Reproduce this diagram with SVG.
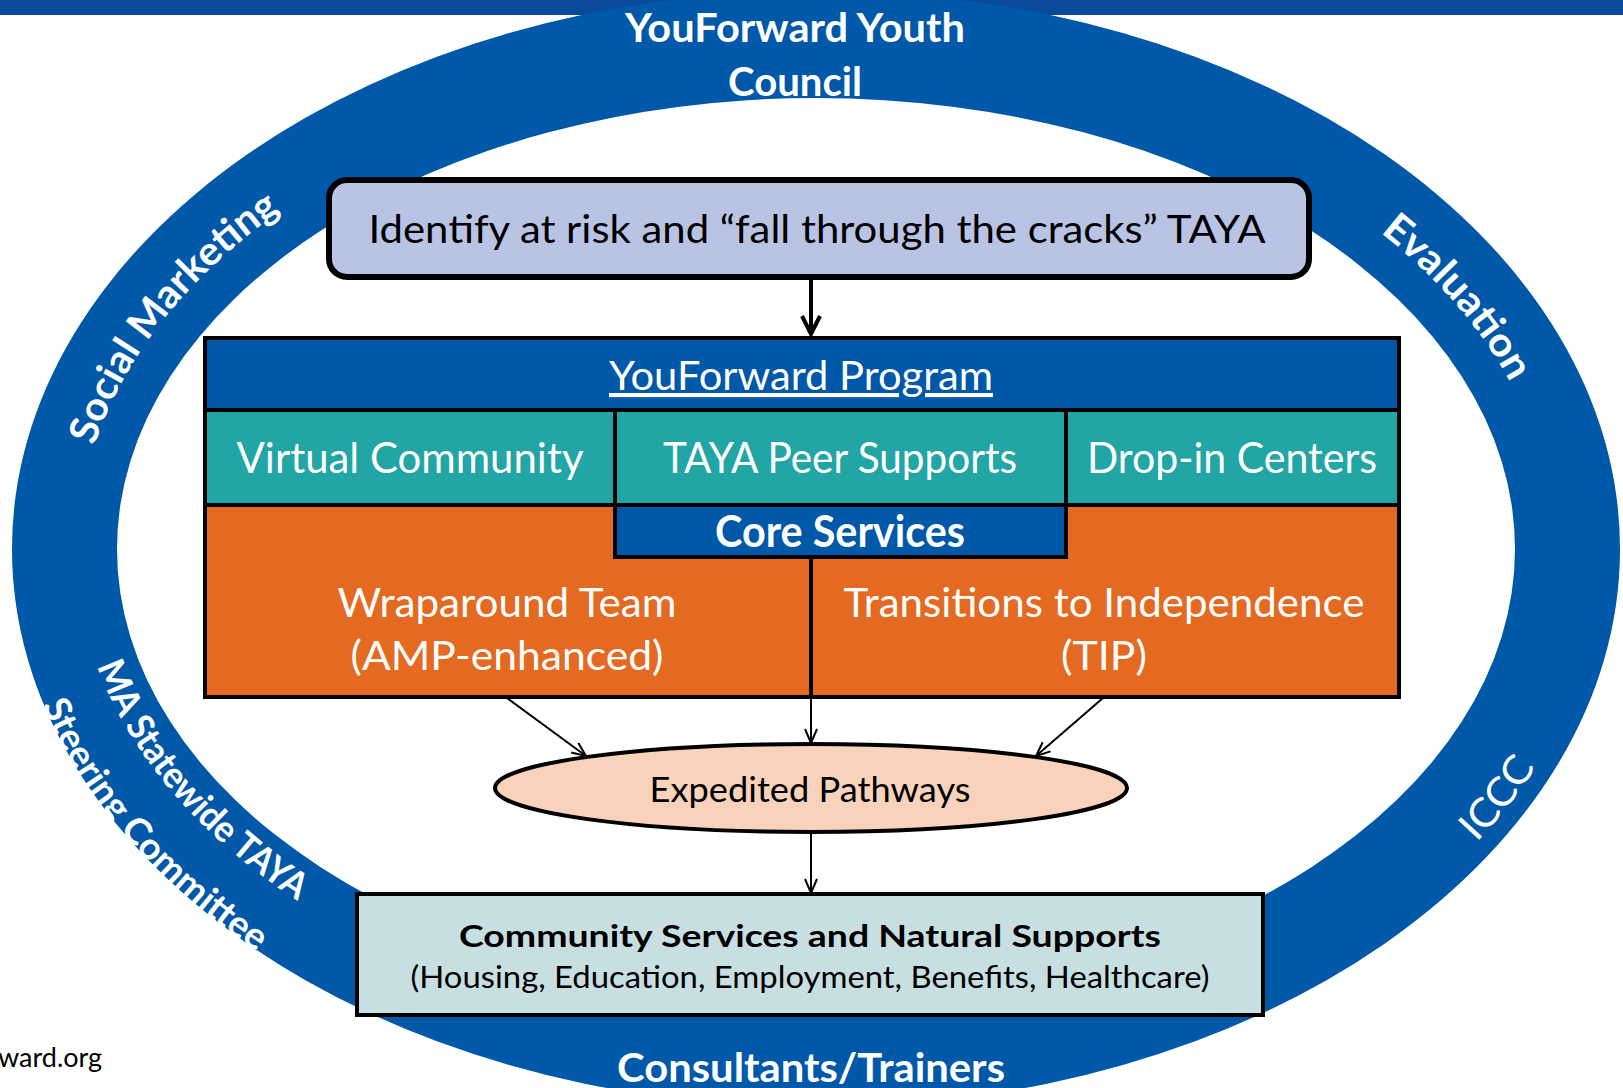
<svg xmlns="http://www.w3.org/2000/svg" width="1623" height="1088" viewBox="0 0 1623 1088">
<style>
  text { font-family: Lato, "Open Sans", "Liberation Sans", sans-serif; }
  .ring-txt { fill: #ffffff; font-weight: bold; font-size: 40px; }
  .ring-reg { fill: #ffffff; font-weight: normal; font-size: 40px; }
  .white { fill: #ffffff; }
  .blk { fill: #000000; }
  .mid { text-anchor: middle; }
  .edge { stroke: #000000; stroke-width: 4; }
  .conn { stroke: #000000; stroke-width: 2; fill: none; }
</style>
<defs>
  <marker id="arrowThin" viewBox="0 0 16 14" refX="15" refY="7" markerWidth="16" markerHeight="14" markerUnits="userSpaceOnUse" orient="auto">
    <path d="M1,1 L15,7 L1,13" fill="none" stroke="#000" stroke-width="2"/>
  </marker>
  <marker id="arrowThick" viewBox="0 0 22 22" refX="20" refY="11" markerWidth="22" markerHeight="22" markerUnits="userSpaceOnUse" orient="auto">
    <path d="M2,2 L20,11 L2,20" fill="none" stroke="#000" stroke-width="4"/>
  </marker>
  <path id="pSocial" d="M 80.3 510.5 A 738 491 0 0 1 336.7 175.6"/>
  <path id="pEval" d="M 1300.2 178.4 A 738 491 0 0 1 1544.9 472.2"/>
  <path id="pICCC" d="M 1372.5 930.8 A 787 540 0 0 0 1591.0 642.8"/>
  <path id="pMA" d="M 77.3 578.5 A 740 493 0 0 0 375.8 945.3"/>
  <path id="pSteer" d="M 13.1 597.8 A 806 559 0 0 0 353.7 1006.9"/>
</defs>

<rect x="0" y="0" width="1623" height="15" fill="#0A4A9D"/>

<g id="ring">
  <path fill="#0058A8" fill-rule="evenodd" d="M 12 549 A 804 558 0 1 0 1620 549 A 804 558 0 1 0 12 549 Z M 117 549 A 699 451 0 1 0 1515 549 A 699 451 0 1 0 117 549 Z"/>
</g>

<g id="ring-labels">
  <g id="youth-council">
    <text class="ring-txt mid" x="795" y="42" textLength="340" lengthAdjust="spacingAndGlyphs">YouForward Youth</text>
    <text class="ring-txt mid" x="795" y="96" textLength="134" lengthAdjust="spacingAndGlyphs">Council</text>
  </g>
  <g id="social-marketing">
    <text class="ring-txt"><textPath href="#pSocial" startOffset="50%" text-anchor="middle" textLength="305" lengthAdjust="spacingAndGlyphs">Social Marketing</textPath></text>
  </g>
  <g id="evaluation">
    <text class="ring-txt"><textPath href="#pEval" startOffset="50%" text-anchor="middle" textLength="200" lengthAdjust="spacingAndGlyphs">Evaluation</textPath></text>
  </g>
  <g id="iccc">
    <text class="ring-reg"><textPath href="#pICCC" startOffset="50%" text-anchor="middle" textLength="96" lengthAdjust="spacingAndGlyphs">ICCC</textPath></text>
  </g>
  <g id="steering">
    <text class="ring-txt" style="font-size:37px"><textPath href="#pMA" startOffset="50%" text-anchor="middle" textLength="314" lengthAdjust="spacingAndGlyphs">MA Statewide TAYA</textPath></text>
    <text class="ring-txt" style="font-size:37px"><textPath href="#pSteer" startOffset="50%" text-anchor="middle" textLength="332" lengthAdjust="spacingAndGlyphs">Steering Committee</textPath></text>
  </g>
  <g id="consultants">
    <text class="ring-txt mid" x="811" y="1082" textLength="388" lengthAdjust="spacingAndGlyphs">Consultants/Trainers</text>
  </g>
</g>

<g id="identify">
  <rect x="329" y="180" width="980" height="97" rx="18" ry="18" fill="#B9C3E3" stroke="#000" stroke-width="6"/>
  <text class="blk mid" x="817" y="243" font-size="39" textLength="897" lengthAdjust="spacingAndGlyphs">Identify at risk and “fall through the cracks” TAYA</text>
</g>

<g id="program">
  <rect x="205" y="338" width="1194" height="73" fill="#0058A8"/>
  <rect x="205" y="411" width="1194" height="94" fill="#21A5A5"/>
  <rect x="205" y="505" width="1194" height="192" fill="#E46A22"/>
  <g id="program-title">
    <text class="white mid" x="801" y="390" font-size="41" text-decoration="underline" textLength="384" lengthAdjust="spacingAndGlyphs">YouForward Program</text>
  </g>
  <line class="edge" x1="205" y1="410" x2="1399" y2="410"/>
  <line class="edge" x1="205" y1="505" x2="1399" y2="505"/>
  <line class="edge" x1="615" y1="410" x2="615" y2="505"/>
  <line class="edge" x1="1066" y1="410" x2="1066" y2="505"/>
  <g id="virtual-community">
    <text class="white mid" x="410" y="473" font-size="42" textLength="347" lengthAdjust="spacingAndGlyphs">Virtual Community</text>
  </g>
  <g id="peer-supports">
    <text class="white mid" x="840" y="473" font-size="42" textLength="354" lengthAdjust="spacingAndGlyphs">TAYA Peer Supports</text>
  </g>
  <g id="drop-in">
    <text class="white mid" x="1232" y="473" font-size="42" textLength="290" lengthAdjust="spacingAndGlyphs">Drop-in Centers</text>
  </g>
  <g id="core-services">
    <rect x="615" y="505" width="451" height="52" fill="#0058A8" stroke="#000" stroke-width="4"/>
    <text class="white mid" x="840" y="547" font-size="43" font-weight="bold" textLength="250" lengthAdjust="spacingAndGlyphs">Core Services</text>
  </g>
  <line class="edge" x1="811" y1="557" x2="811" y2="697"/>
  <g id="wraparound">
    <text class="white mid" x="507" y="617" font-size="41" textLength="339" lengthAdjust="spacingAndGlyphs">Wraparound Team</text>
    <text class="white mid" x="507" y="670" font-size="41" textLength="313" lengthAdjust="spacingAndGlyphs">(AMP-enhanced)</text>
  </g>
  <g id="tip">
    <text class="white mid" x="1104" y="617" font-size="41" textLength="521" lengthAdjust="spacingAndGlyphs">Transitions to Independence</text>
    <text class="white mid" x="1104" y="670" font-size="41" textLength="86" lengthAdjust="spacingAndGlyphs">(TIP)</text>
  </g>
  <rect x="205" y="338" width="1194" height="359" fill="none" stroke="#000" stroke-width="4"/>
</g>

<g id="expedited">
  <ellipse cx="811" cy="788" rx="316" ry="44" fill="#F8D2BA" stroke="#000" stroke-width="4"/>
  <text class="blk mid" x="810" y="802" font-size="35" textLength="321" lengthAdjust="spacingAndGlyphs">Expedited  Pathways</text>
</g>

<g id="community">
  <rect x="357" y="894" width="906" height="121" fill="#C7DFE0" stroke="#000" stroke-width="4"/>
  <text class="blk mid" x="810" y="947" font-size="31" font-weight="bold" textLength="702" lengthAdjust="spacingAndGlyphs">Community Services and Natural Supports</text>
  <text class="blk mid" x="810" y="988" font-size="30" textLength="799" lengthAdjust="spacingAndGlyphs">(Housing, Education, Employment, Benefits, Healthcare)</text>
</g>

<g id="connectors">
  <line x1="811" y1="280" x2="811" y2="334" stroke="#000" stroke-width="4" marker-end="url(#arrowThick)"/>
  <line class="conn" x1="507" y1="698" x2="586" y2="756" marker-end="url(#arrowThin)"/>
  <line class="conn" x1="811" y1="698" x2="811" y2="743" marker-end="url(#arrowThin)"/>
  <line class="conn" x1="1103" y1="698" x2="1036" y2="756" marker-end="url(#arrowThin)"/>
  <line class="conn" x1="811" y1="832" x2="811" y2="893" marker-end="url(#arrowThin)"/>
</g>

<g id="footer">
  <text class="blk" x="-2" y="1067" font-size="27">ward.org</text>
</g>
</svg>
